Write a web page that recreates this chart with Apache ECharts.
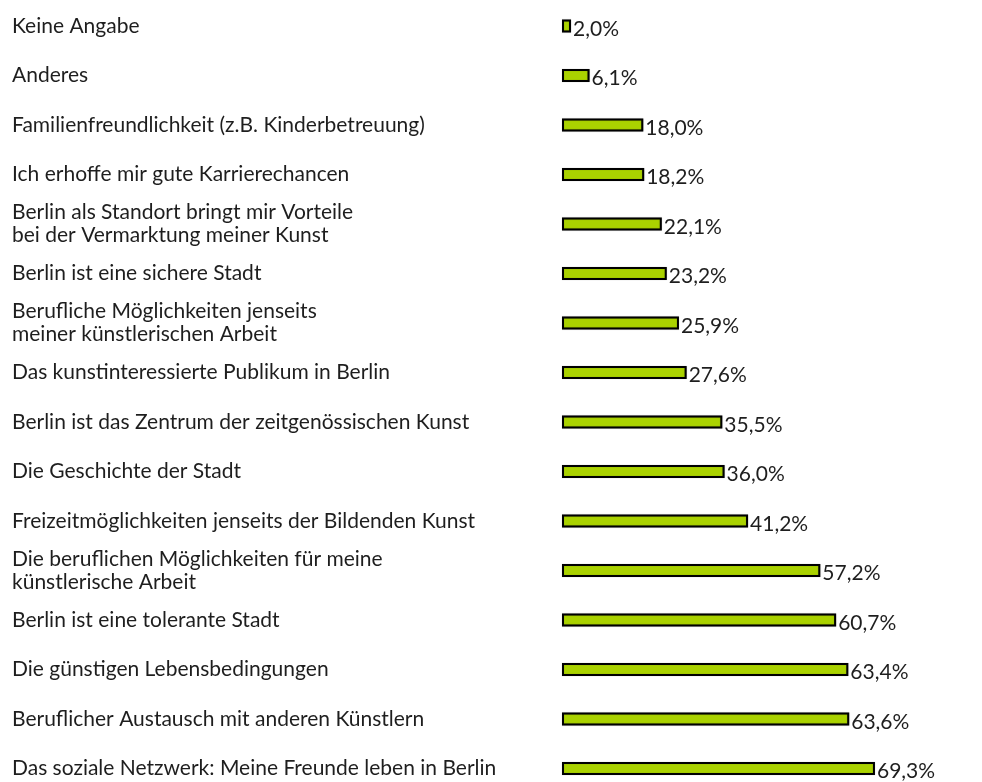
<!DOCTYPE html>
<html>
<head>
<meta charset="utf-8">
<script src="https://cdn.jsdelivr.net/npm/echarts@6/dist/echarts.min.js"></script>
<style>
html,body{margin:0;padding:0;background:#fff;}
#chart{width:982px;height:782px;}
</style>
</head>
<body>
<div id="chart"></div>
<script>
const categories = [
  "Keine Angabe",
  "Anderes",
  "Familienfreundlichkeit (z.B. Kinderbetreuung)",
  "Ich erhoffe mir gute Karrierechancen",
  "Berlin als Standort bringt mir Vorteile\nbei der Vermarktung meiner Kunst",
  "Berlin ist eine sichere Stadt",
  "Berufliche Möglichkeiten jenseits\nmeiner künstlerischen Arbeit",
  "Das kunstinteressierte Publikum in Berlin",
  "Berlin ist das Zentrum der zeitgenössischen Kunst",
  "Die Geschichte der Stadt",
  "Freizeitmöglichkeiten jenseits der Bildenden Kunst",
  "Die beruflichen Möglichkeiten für meine\nkünstlerische Arbeit",
  "Berlin ist eine tolerante Stadt",
  "Die günstigen Lebensbedingungen",
  "Beruflicher Austausch mit anderen Künstlern",
  "Das soziale Netzwerk: Meine Freunde leben in Berlin"
];
const values = [2.0, 6.1, 18.0, 18.2, 22.1, 23.2, 25.9, 27.6, 35.5, 36.0, 41.2, 57.2, 60.7, 63.4, 63.6, 69.3];

const FONT = "Lato";
const chart = echarts.init(document.getElementById('chart'));
chart.setOption({
  animation: false,
  backgroundColor: '#ffffff',
  grid: { left: 562, top: 1.25, width: 420, height: 792, containLabel: false, outerBoundsMode: 'none' },
  xAxis: {
    type: 'value', min: 0, max: 93, show: false
  },
  yAxis: {
    type: 'category',
    data: categories,
    inverse: true,
    axisLine: { show: false },
    axisTick: { show: false },
    splitLine: { show: false },
    axisLabel: {
      align: 'left',
      margin: 550,
      color: '#1e1e1e',
      fontFamily: FONT,
      fontSize: 21,
      lineHeight: 23
    }
  },
  series: [{
    type: 'bar',
    data: values,
    barWidth: 13,
    itemStyle: {
      color: '#aad200',
      borderColor: '#000000',
      borderWidth: 2,
      shadowColor: 'rgba(0,0,0,0.35)',
      shadowBlur: 1
    },
    label: {
      show: true,
      position: 'right',
      distance: 2,
      offset: [0, 3],
      color: '#1e1e1e',
      fontFamily: FONT,
      fontSize: 21,
      formatter: p => p.value.toFixed(1).replace('.', ',') + '%'
    }
  }]
});
</script>
</body>
</html>
